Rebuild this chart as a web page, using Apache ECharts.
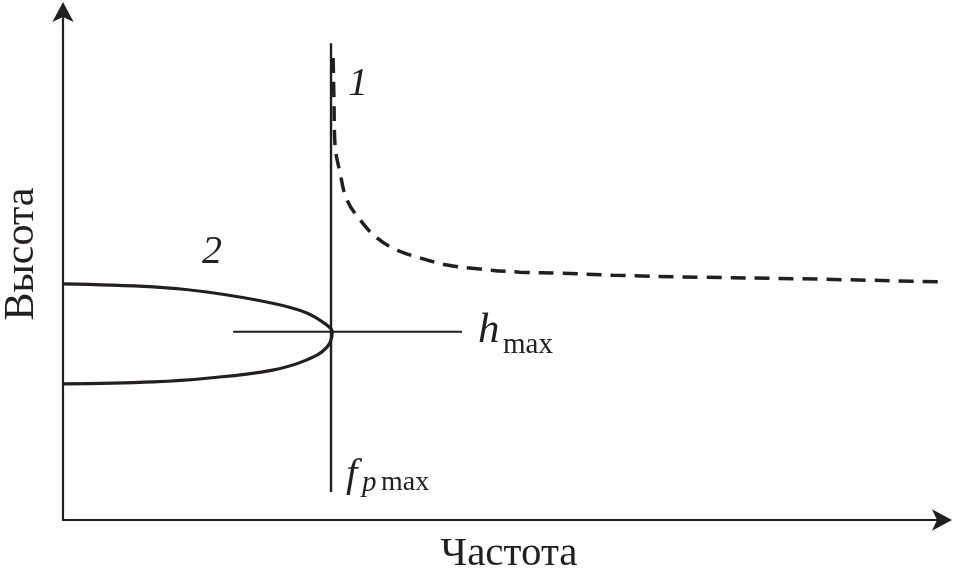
<!DOCTYPE html>
<html>
<head>
<meta charset="utf-8">
<script src="https://cdn.jsdelivr.net/npm/echarts@6/dist/echarts.min.js"></script>
<style>html,body{margin:0;padding:0;background:#fff;}#c{width:955px;height:582px;}</style>
</head>
<body>
<div id="c"></div>
<script>
// Axis titles and labels
const xName = 'Частота';
const yName = 'Высота';
const curveLabels = ['1', '2'];

// Curve 1 (dashed): [frequency, height]
const curve1 = [[30.8,90.6],[30.9,82.0],[31.0,74.0],[31.6,68.0],[32.4,62.7],[33.9,58.8],[35.8,55.3],[38.1,52.9],[40.7,51.4],[43.8,50.0],[47.5,49.2],[52.1,48.6],[56.7,48.4],[62.7,48.0],[72.6,47.6],[84.0,47.3],[99.8,46.7]];
// Curve 2 (solid, layer profile)
const curve2 = [[0,46.3],[10.3,45.7],[16.4,44.7],[23.9,42.5],[27.8,40.6],[30.1,38.2],[30.7,36.9],[30.1,33.9],[27.8,31.4],[23.9,29.4],[16.4,27.8],[10.3,27.1],[0,26.7]];
// Reference lines
const fpmaxLine = [[30.56,5.5],[30.56,93.5]];
const hmaxLine = [[19.4,36.9],[45.5,36.9]];

const ink = '#231f20';
const serif = '"Liberation Serif", "DejaVu Serif", serif';

const chart = echarts.init(document.getElementById('c'), null, {renderer: 'canvas'});

function axis(offset) {
  return {
    type: 'value', min: 0, max: 100,
    axisLine: {show: true, onZero: false, symbol: ['none', 'arrow'], symbolSize: [16, 20], symbolOffset: [0, offset], lineStyle: {color: ink, width: 2.2}},
    axisTick: {show: false}, axisLabel: {show: false}, splitLine: {show: false}
  };
}

function txt(text, x, y, size, italic, align, rot) {
  return {
    type: 'text', x: x, y: y, rotation: rot || 0,
    style: {text: text, fill: ink, font: (italic ? 'italic ' : '') + size + 'px ' + serif, textAlign: align || 'center', textVerticalAlign: 'middle'}
  };
}

chart.setOption({
  animation: false,
  backgroundColor: '#fff',
  grid: {left: 63, right: 15, top: 10, bottom: 62},
  xAxis: axis(12),
  yAxis: axis(8),
  series: [
    {type: 'line', data: curve1, smooth: 0.4, showSymbol: false, lineStyle: {color: ink, width: 3.5, type: [15, 9]}},
    {type: 'line', data: curve2, smooth: 0.4, showSymbol: false, lineStyle: {color: ink, width: 3.2}},
    {type: 'line', data: fpmaxLine, showSymbol: false, lineStyle: {color: ink, width: 2.4}},
    {type: 'line', data: hmaxLine, showSymbol: false, lineStyle: {color: ink, width: 2}}
  ],
  graphic: [
    txt(xName, 509, 554, 41, false),
    txt(yName, 22, 254, 42, false, 'center', Math.PI / 2),
    txt(curveLabels[0], 358, 84, 40, true),
    txt(curveLabels[1], 212, 252, 40, true),
    txt('h', 478, 331, 43, true, 'left'),
    txt('max', 503, 345, 29, false, 'left'),
    txt('f', 346, 475, 41, true, 'left'),
    txt('p', 362, 483, 29, true, 'left'),
    txt('max', 381, 483, 28, false, 'left')
  ]
});
</script>
</body>
</html>
